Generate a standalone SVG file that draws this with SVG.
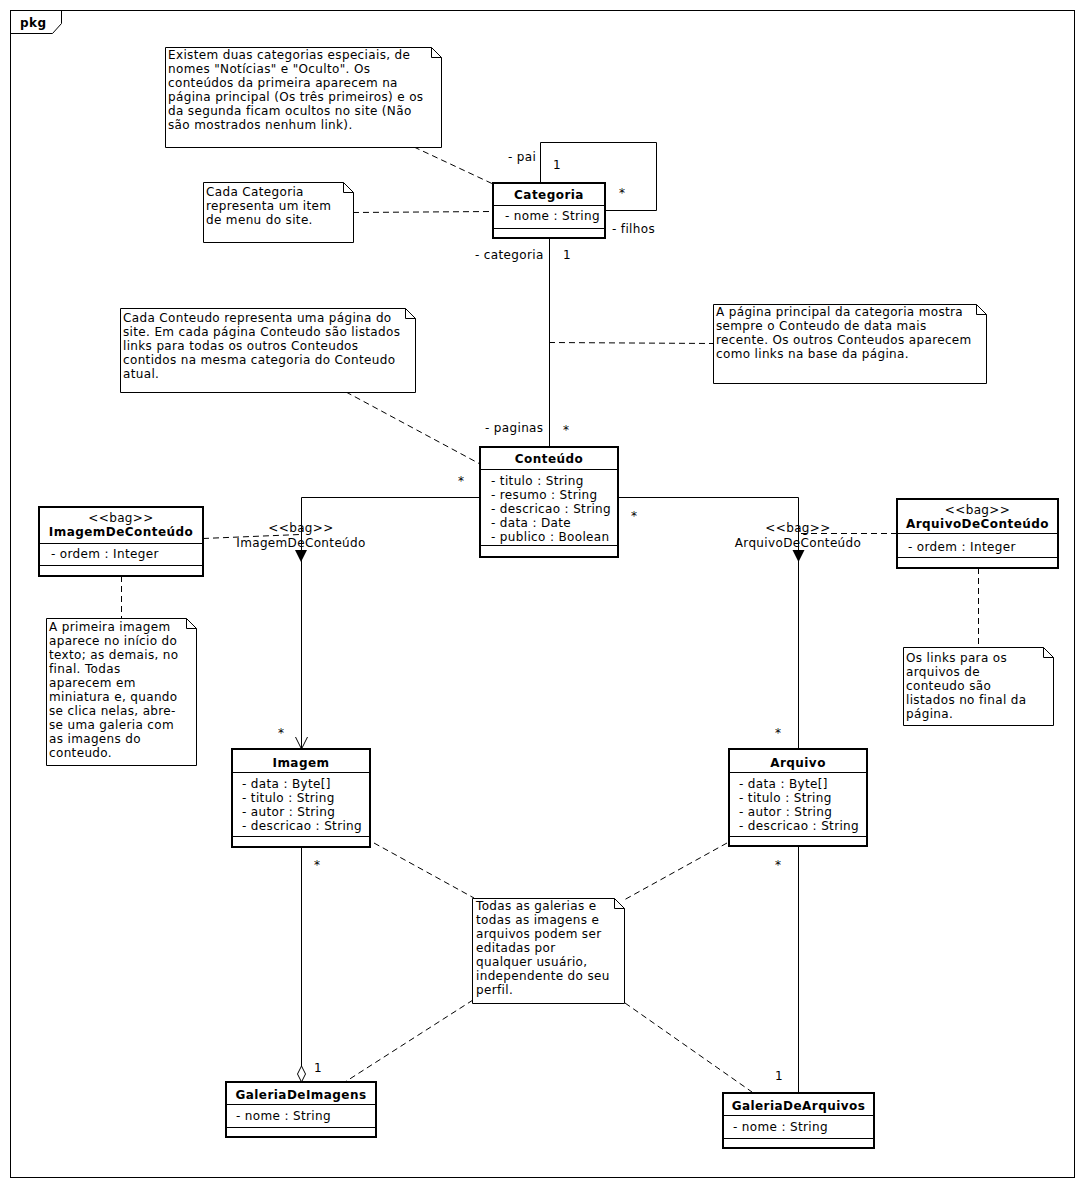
<svg xmlns="http://www.w3.org/2000/svg" width="1085" height="1188" viewBox="0 0 1085 1188">
<style>
.t{font-family:"DejaVu Sans",sans-serif;font-size:12px;fill:#000;letter-spacing:0.35px}
.b{font-weight:bold;letter-spacing:0.45px}
.m{text-anchor:middle}
.box{fill:#fff;stroke:#000;stroke-width:2}
.sep{stroke:#000;stroke-width:1}
.note{fill:#fff;stroke:#000;stroke-width:1}
.ln{fill:none;stroke:#000;stroke-width:1}
.dash{fill:none;stroke:#000;stroke-width:1;stroke-dasharray:6 4}
</style>
<rect width="1085" height="1188" fill="#fff"/>
<g id="frame">
<rect x="10.5" y="10.5" width="1064" height="1167" class="ln"/>
<path d="M10.5,33.5 H52.5 L61.5,23.5 V10.5" class="ln"/>
<text x="20" y="27" class="t b">pkg</text>
</g>
<g id="connectors">
<polyline points="540.5,183 540.5,142.5 656.5,142.5 656.5,210.5 605,210.5" class="ln"/>
<line x1="549.5" y1="238" x2="549.5" y2="447" class="ln"/>
<polyline points="480,497.5 301.5,497.5 301.5,749" class="ln"/>
<polyline points="295.5,737 301.5,749 307.5,737" class="ln"/>
<polyline points="618,497.5 798.5,497.5 798.5,749" class="ln"/>
<polygon points="295,550 307,550 301,562" fill="#000"/>
<polygon points="792.5,550 804.5,550 798.5,562" fill="#000"/>
<line x1="301.5" y1="847" x2="301.5" y2="1066" class="ln"/>
<polygon points="301.5,1082 305.5,1074 301.5,1066 297.5,1074" fill="#fff" stroke="#000" stroke-width="1"/>
<line x1="798.5" y1="847" x2="798.5" y2="1093" class="ln"/>
<line x1="414" y1="147" x2="493" y2="184" class="dash"/>
<line x1="353" y1="212.5" x2="493" y2="211.5" class="dash"/>
<line x1="346" y1="392" x2="480" y2="464" class="dash"/>
<line x1="549" y1="342.5" x2="713" y2="343.5" class="dash"/>
<line x1="203" y1="538.5" x2="300" y2="534.5" class="dash"/>
<line x1="897" y1="533.5" x2="798" y2="533.5" class="dash"/>
<line x1="121.5" y1="576" x2="121.5" y2="618" class="dash"/>
<line x1="978.5" y1="568" x2="978.5" y2="647" class="dash"/>
<line x1="374" y1="843" x2="474" y2="898" class="dash"/>
<line x1="727" y1="843" x2="624" y2="900" class="dash"/>
<line x1="473" y1="1000" x2="345" y2="1082" class="dash"/>
<line x1="625" y1="1003" x2="752" y2="1092" class="dash"/>
<text x="508" y="161" class="t">- pai</text>
<text x="553" y="169" class="t">1</text>
<text x="619" y="197" class="t">*</text>
<text x="612" y="233" class="t">- filhos</text>
<text x="475" y="259" class="t">- categoria</text>
<text x="563" y="259" class="t">1</text>
<text x="485" y="432" class="t">- paginas</text>
<text x="563" y="434" class="t">*</text>
<text x="458" y="485" class="t">*</text>
<text x="631" y="520" class="t">*</text>
<text x="278" y="737" class="t">*</text>
<text x="775" y="737" class="t">*</text>
<text x="314" y="869" class="t">*</text>
<text x="775" y="869" class="t">*</text>
<text x="314" y="1072" class="t">1</text>
<text x="775" y="1080" class="t">1</text>
<text x="301" y="532" class="t m">&lt;&lt;bag&gt;&gt;</text>
<text x="301" y="547" class="t m">ImagemDeConteúdo</text>
<text x="798" y="532" class="t m">&lt;&lt;bag&gt;&gt;</text>
<text x="798" y="547" class="t m">ArquivoDeConteúdo</text>
</g>
<g id="note-categorias-especiais">
<path d="M165.5,47.5 H431.5 L441.5,57.5 V147.5 H165.5 Z M431.5,47.5 V57.5 H441.5" class="note"/>
<text class="t"><tspan x="168" y="59">Existem duas categorias especiais, de</tspan><tspan x="168" y="73">nomes "Notícias" e "Oculto". Os</tspan><tspan x="168" y="87">conteúdos da primeira aparecem na</tspan><tspan x="168" y="101">página principal (Os três primeiros) e os</tspan><tspan x="168" y="115">da segunda ficam ocultos no site (Não</tspan><tspan x="168" y="129">são mostrados nenhum link).</tspan></text>
</g>
<g id="note-categoria-menu">
<path d="M203.5,182.5 H343.5 L353.5,192.5 V242.5 H203.5 Z M343.5,182.5 V192.5 H353.5" class="note"/>
<text class="t"><tspan x="206" y="196">Cada Categoria</tspan><tspan x="206" y="210">representa um item</tspan><tspan x="206" y="224">de menu do site.</tspan></text>
</g>
<g id="note-conteudo">
<path d="M120.5,308.5 H405.5 L415.5,318.5 V392.5 H120.5 Z M405.5,308.5 V318.5 H415.5" class="note"/>
<text class="t"><tspan x="123" y="322">Cada Conteudo representa uma página do</tspan><tspan x="123" y="336">site. Em cada página Conteudo são listados</tspan><tspan x="123" y="350">links para todas os outros Conteudos</tspan><tspan x="123" y="364">contidos na mesma categoria do Conteudo</tspan><tspan x="123" y="378">atual.</tspan></text>
</g>
<g id="note-pagina-principal">
<path d="M713.5,304.5 H976.5 L986.5,314.5 V383.5 H713.5 Z M976.5,304.5 V314.5 H986.5" class="note"/>
<text class="t"><tspan x="716" y="316">A página principal da categoria mostra</tspan><tspan x="716" y="330">sempre o Conteudo de data mais</tspan><tspan x="716" y="344">recente. Os outros Conteudos aparecem</tspan><tspan x="716" y="358">como links na base da página.</tspan></text>
</g>
<g id="note-primeira-imagem">
<path d="M46.5,618.5 H186.5 L196.5,628.5 V765.5 H46.5 Z M186.5,618.5 V628.5 H196.5" class="note"/>
<text class="t"><tspan x="49" y="631">A primeira imagem</tspan><tspan x="49" y="645">aparece no início do</tspan><tspan x="49" y="659">texto; as demais, no</tspan><tspan x="49" y="673">final. Todas</tspan><tspan x="49" y="687">aparecem em</tspan><tspan x="49" y="701">miniatura e, quando</tspan><tspan x="49" y="715">se clica nelas, abre-</tspan><tspan x="49" y="729">se uma galeria com</tspan><tspan x="49" y="743">as imagens do</tspan><tspan x="49" y="757">conteudo.</tspan></text>
</g>
<g id="note-links-arquivos">
<path d="M903.5,647.5 H1043.5 L1053.5,657.5 V725.5 H903.5 Z M1043.5,647.5 V657.5 H1053.5" class="note"/>
<text class="t"><tspan x="906" y="662">Os links para os</tspan><tspan x="906" y="676">arquivos de</tspan><tspan x="906" y="690">conteudo são</tspan><tspan x="906" y="704">listados no final da</tspan><tspan x="906" y="718">página.</tspan></text>
</g>
<g id="note-galerias">
<path d="M472.5,898.5 H614.5 L624.5,908.5 V1003.5 H472.5 Z M614.5,898.5 V908.5 H624.5" class="note"/>
<text class="t"><tspan x="476" y="910">Todas as galerias e</tspan><tspan x="476" y="924">todas as imagens e</tspan><tspan x="476" y="938">arquivos podem ser</tspan><tspan x="476" y="952">editadas por</tspan><tspan x="476" y="966">qualquer usuário,</tspan><tspan x="476" y="980">independente do seu</tspan><tspan x="476" y="994">perfil.</tspan></text>
</g>
<g id="Categoria">
<rect x="493" y="183" width="112" height="55" class="box"/>
<line x1="493" y1="205.5" x2="605" y2="205.5" class="sep"/>
<line x1="493" y1="228.5" x2="605" y2="228.5" class="sep"/>
<text x="549" y="199" class="t b m">Categoria</text>
<text x="505" y="220" class="t">- nome : String</text>
</g>
<g id="Conteudo">
<rect x="480" y="447" width="138" height="110" class="box"/>
<line x1="480" y1="469.5" x2="618" y2="469.5" class="sep"/>
<line x1="480" y1="545.5" x2="618" y2="545.5" class="sep"/>
<text x="549" y="463" class="t b m">Conteúdo</text>
<text class="t"><tspan x="491" y="485">- titulo : String</tspan><tspan x="491" y="499">- resumo : String</tspan><tspan x="491" y="513">- descricao : String</tspan><tspan x="491" y="527">- data : Date</tspan><tspan x="491" y="541">- publico : Boolean</tspan></text>
</g>
<g id="ImagemDeConteudo">
<rect x="39" y="507" width="164" height="69" class="box"/>
<line x1="39" y1="543.5" x2="203" y2="543.5" class="sep"/>
<line x1="39" y1="565.5" x2="203" y2="565.5" class="sep"/>
<text x="121" y="522" class="t m">&lt;&lt;bag&gt;&gt;</text>
<text x="121" y="536" class="t b m">ImagemDeConteúdo</text>
<text x="51" y="558" class="t">- ordem : Integer</text>
</g>
<g id="ArquivoDeConteudo">
<rect x="897" y="499" width="161" height="69" class="box"/>
<line x1="897" y1="533.5" x2="1058" y2="533.5" class="sep"/>
<line x1="897" y1="557.5" x2="1058" y2="557.5" class="sep"/>
<text x="977.5" y="514" class="t m">&lt;&lt;bag&gt;&gt;</text>
<text x="977.5" y="528" class="t b m">ArquivoDeConteúdo</text>
<text x="908" y="551" class="t">- ordem : Integer</text>
</g>
<g id="Imagem">
<rect x="232" y="749" width="138" height="98" class="box"/>
<line x1="232" y1="772.5" x2="370" y2="772.5" class="sep"/>
<line x1="232" y1="836.5" x2="370" y2="836.5" class="sep"/>
<text x="301" y="767" class="t b m">Imagem</text>
<text class="t"><tspan x="242" y="788">- data : Byte[]</tspan><tspan x="242" y="802">- titulo : String</tspan><tspan x="242" y="816">- autor : String</tspan><tspan x="242" y="830">- descricao : String</tspan></text>
</g>
<g id="Arquivo">
<rect x="729" y="749" width="138" height="97" class="box"/>
<line x1="729" y1="772.5" x2="867" y2="772.5" class="sep"/>
<line x1="729" y1="836.5" x2="867" y2="836.5" class="sep"/>
<text x="798" y="767" class="t b m">Arquivo</text>
<text class="t"><tspan x="739" y="788">- data : Byte[]</tspan><tspan x="739" y="802">- titulo : String</tspan><tspan x="739" y="816">- autor : String</tspan><tspan x="739" y="830">- descricao : String</tspan></text>
</g>
<g id="GaleriaDeImagens">
<rect x="226" y="1082" width="150" height="55" class="box"/>
<line x1="226" y1="1104.5" x2="376" y2="1104.5" class="sep"/>
<line x1="226" y1="1127.5" x2="376" y2="1127.5" class="sep"/>
<text x="301" y="1099" class="t b m">GaleriaDeImagens</text>
<text x="236" y="1120" class="t">- nome : String</text>
</g>
<g id="GaleriaDeArquivos">
<rect x="723" y="1093" width="151" height="55" class="box"/>
<line x1="723" y1="1115.5" x2="874" y2="1115.5" class="sep"/>
<line x1="723" y1="1138.5" x2="874" y2="1138.5" class="sep"/>
<text x="798.5" y="1110" class="t b m">GaleriaDeArquivos</text>
<text x="733" y="1131" class="t">- nome : String</text>
</g>
</svg>
